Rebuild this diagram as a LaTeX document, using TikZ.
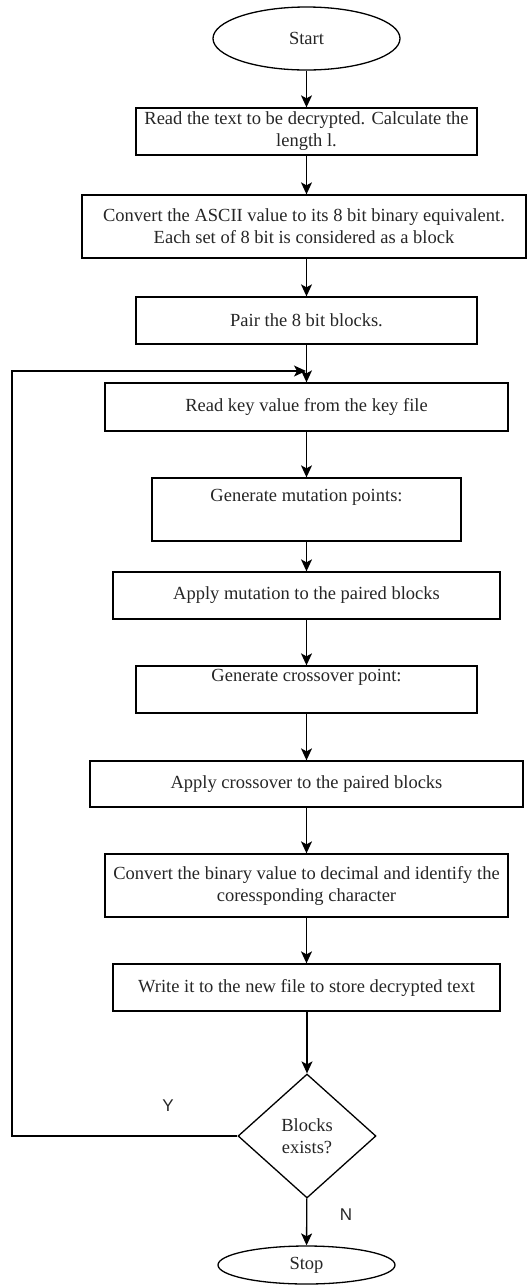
\documentclass[tikz,border=0pt]{standalone}
\usepackage{fontspec}
\setmainfont{Liberation Serif}
\newfontfamily\ynfont{Liberation Sans}
\usepackage{tikz}
\usetikzlibrary{shapes.geometric,arrows.meta}
\usepackage{xcolor}

\begin{document}
\begin{tikzpicture}[x=1pt,y=1pt]
        \tikzset{
        fc box/.style={rectangle,draw,line width=1.3pt,inner sep=0,align=center,font=\fontsize{18.5}{22}\selectfont,text=black!85},
        fc term/.style={ellipse,draw,line width=1.3pt,inner sep=0,font=\fontsize{18.5}{22}\selectfont,text=black!85},
        fc dec/.style={diamond,draw,line width=1.3pt,inner sep=0,align=center,font=\fontsize{18.5}{22}\selectfont,text=black!85},
        fc edge/.style={-{Stealth[length=12pt,width=11pt,inset=3pt]},line width=1.3pt},
        fc lbl/.style={font=\ynfont\fontsize{17}{20}\selectfont,text=black!85}
        }
        \useasboundingbox (0,0) rectangle (530,-1286);
        \node[fc term, minimum width=187, minimum height=63] (start) at (306.5,-38.5) {Start};
        \node[fc box, minimum width=341, minimum height=47] (read) at (306.5,-131.5) {Read the text to be decrypted. Calculate the\\length l.};
        \node[fc box, minimum width=444, minimum height=63] (conv) at (304,-226.5) {Convert the ASCII value to its 8 bit binary equivalent.\\Each set of 8 bit is considered as a block};
        \node[fc box, minimum width=341, minimum height=47] (pair) at (306.5,-320.5) {Pair the 8 bit blocks.};
        \node[fc box, minimum width=403, minimum height=48] (key) at (306.5,-407) {Read key value from the key file};
        \node[fc box, minimum width=309, minimum height=63] (mut) at (306.5,-509.5) {Generate mutation points:\\ \strut};
        \node[fc box, minimum width=387, minimum height=47] (amut) at (306.5,-595.5) {Apply mutation to the paired blocks};
        \node[fc box, minimum width=341, minimum height=47] (cross) at (306.5,-689.5) {Generate crossover point:\\ \strut};
        \node[fc box, minimum width=433, minimum height=46] (across) at (306.5,-784) {Apply crossover to the paired blocks};
        \node[fc box, minimum width=403, minimum height=63] (bin) at (306.5,-885.5) {Convert the binary value to decimal and identify the\\coressponding character};
        \node[fc box, minimum width=387, minimum height=47] (write) at (306.5,-987.5) {Write it to the new file to store decrypted text};
        \node[fc dec, minimum width=138, minimum height=124] (blk) at (307,-1136) {Blocks\\exists?};
        \node[fc term, minimum width=177, minimum height=38] (stop) at (306.5,-1265) {Stop};

        \coordinate (corner) at (12,-371);
        \coordinate (back) at (306,-371);

        \draw[fc edge] (start) -- (read);
        \draw[fc edge] (read) -- (read |- conv.north);
        \draw[fc edge] (conv.south -| pair) -- (pair);
        \draw[fc edge] (pair) -- (key);
        \draw[fc edge] (key) -- (mut);
        \draw[fc edge] (mut) -- (amut);
        \draw[fc edge] (amut) -- (cross);
        \draw[fc edge] (cross) -- (across.north -| cross);
        \draw[fc edge] (across.south -| bin) -- (bin);
        \draw[fc edge] (bin) -- (write);
        \draw[fc edge] (write.south -| blk) -- (blk);
        \draw[fc edge] (blk) -- (stop);
        \draw[fc edge] (blk.west) -| (corner) -- (back);

        \node[fc lbl] (yes) at (168,-1106) {Y};
        \node[fc lbl] (no) at (346,-1215) {N};
    \end{tikzpicture}
\end{document}
